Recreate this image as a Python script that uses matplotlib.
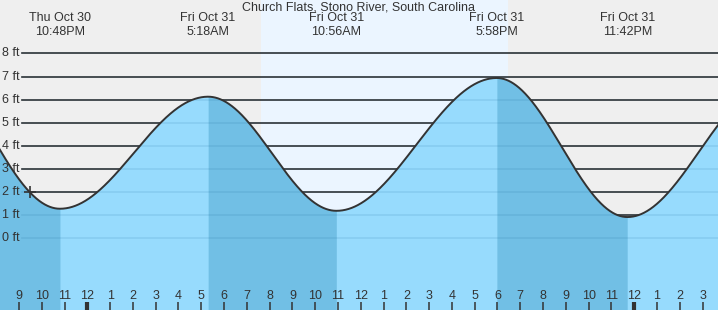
import numpy as np
import matplotlib
matplotlib.use("Agg")
import matplotlib.pyplot as plt

# ---- data (hours relative to Fri Oct 31 00:00, heights in ft) ----
title = "Church Flats, Stono River, South Carolina"
# tide extremes (first and last are off-chart estimates)
event_times = [-7.7, -1.2, 5.3, 10.933, 17.967, 23.7, 30.0]
event_heights = [8.5, 1.28, 6.13, 1.19, 6.94, 0.92, 6.6]
event_labels_day = ["", "Thu Oct 30", "Fri Oct 31", "Fri Oct 31", "Fri Oct 31", "Fri Oct 31", ""]
event_labels_time = ["", "10:48PM", "5:18AM", "10:56AM", "5:58PM", "11:42PM", ""]
sunrise = 7.62
sunset = 18.48
now_time = -2.52
now_height = 2.0
ft_levels = [0, 1, 2, 3, 4, 5, 6, 7, 8]
hour_ticks = list(range(-3, 28))

x_min, x_max = -3.831, 27.676
y_min, y_max = -3.104, 10.316

BG = "#efefef"
DAY = "#ebf5ff"
WATER = "#97dbfd"
WATER_DARK = "#71bfe5"
TXT = "#333333"
FS = 9

plt.rcParams["font.family"] = ["Liberation Sans", "DejaVu Sans"]
fig = plt.figure(figsize=(7.18, 3.10), dpi=100, facecolor=BG)
ax = fig.add_axes([0, 0, 1, 1])
ax.set_facecolor(BG)
ax.set_xlim(x_min, x_max)
ax.set_ylim(y_min, y_max)
ax.axis("off")

# day band
ax.axvspan(sunrise, sunset, color=DAY, zorder=0, lw=0)

# tide curve: cosine interpolation between extremes
t = np.linspace(x_min - 0.5, x_max + 0.5, 2400)
v = np.empty_like(t)
et = np.array(event_times)
eh = np.array(event_heights)
for i in range(len(et) - 1):
    m = (t >= et[i]) & (t <= et[i + 1])
    ph = (t[m] - et[i]) / (et[i + 1] - et[i])
    v[m] = eh[i] + (eh[i + 1] - eh[i]) * (1 - np.cos(np.pi * ph)) / 2

# grid lines (dark)
x_line_start = x_min + 22 / 22.79
for lv in ft_levels:
    ax.plot([x_line_start, x_max + 1], [lv, lv], color="#333333", lw=1.2, zorder=1)
    ax.text(x_min + 2 / 22.79, lv, f"{lv} ft", color=TXT, fontsize=FS,
            va="center", ha="left", zorder=6)

# water
ax.fill_between(t, y_min - 1, v, color=WATER, lw=0, zorder=2)
for i in range(len(et) - 1):
    if eh[i] > eh[i + 1]:
        m = (t >= et[i]) & (t <= et[i + 1])
        ax.fill_between(t[m], y_min - 1, v[m], color=WATER_DARK, lw=0, zorder=2.1)

# faint lines under water
for lv in ft_levels:
    ax.plot([x_line_start, x_max + 1], [lv, lv], color=(0.0, 0.3, 0.5), alpha=0.1,
            lw=1.2, zorder=3)

ax.plot(t, v, color="#333333", lw=1.4, zorder=4)

# current marker
ax.plot([now_time], [now_height], marker="+", ms=9, mew=1.2, color="#333333", zorder=5)

# event labels
for tt, d, tm in zip(event_times, event_labels_day, event_labels_time):
    if d:
        ax.text(tt, 9.54, d, ha="center", va="center", fontsize=FS, color=TXT, zorder=6)
        ax.text(tt, 8.93, tm, ha="center", va="center", fontsize=FS, color=TXT, zorder=6)

ax.text((x_min + x_max) / 2, 10.0, title, ha="center", va="center", fontsize=FS,
        color=TXT, zorder=6)

# hour ticks
for h in hour_ticks:
    hr = h % 12
    lab = str(12 if hr == 0 else hr)
    ax.text(h, -2.5, lab, ha="center", va="center", fontsize=FS, color=TXT, zorder=6)
    thick = (h % 24 == 0)
    ax.plot([h, h], [-2.76, y_min - 1], color="#333333", lw=3 if thick else 1.1,
            solid_capstyle="butt", zorder=6)

fig.savefig("out.png", dpi=100, facecolor=BG)
